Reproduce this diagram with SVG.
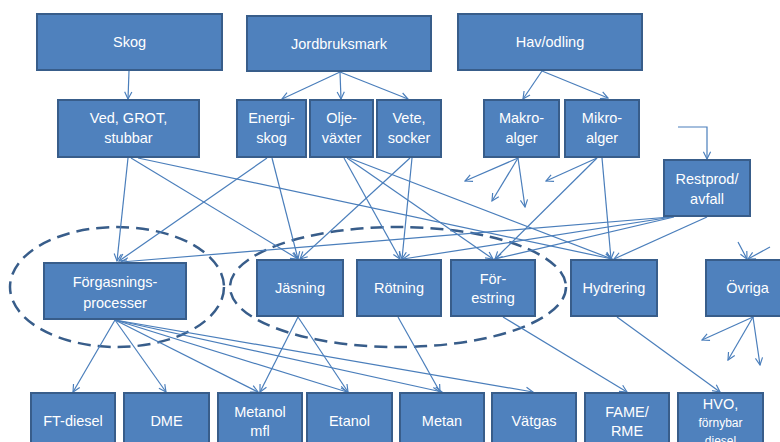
<svg xmlns="http://www.w3.org/2000/svg" width="780" height="442" viewBox="0 0 780 442">
<defs>
<marker id="ah" viewBox="0 0 10 10" refX="9" refY="5" markerWidth="9" markerHeight="9" markerUnits="userSpaceOnUse" orient="auto">
<path d="M1,1 L9,5 L1,9" fill="none" stroke="#4A7EBB" stroke-width="1.3"/>
</marker>
<style>
.n rect{fill:#4F81BD;stroke:#385D8A;stroke-width:2}
.n text{fill:#fff;font-family:"Liberation Sans",Arial,sans-serif;font-size:14.5px;text-anchor:middle}
.c line,.c path{stroke:#4A7EBB;stroke-width:1.2;fill:none;marker-end:url(#ah)}
.e ellipse{fill:none;stroke:#385D8A;stroke-width:2.5;stroke-dasharray:13 7}
</style>
</defs>
<rect width="780" height="442" fill="#fff"/>
<g class="e" id="ellipses">
<ellipse cx="117" cy="287" rx="107" ry="60"/>
<ellipse cx="398" cy="287" rx="168" ry="60"/>
</g>
<g class="c" id="connectors">
<line x1="129" y1="71" x2="128" y2="99"/>
<line x1="340" y1="72" x2="282" y2="99"/>
<line x1="340" y1="72" x2="341" y2="99"/>
<line x1="340" y1="72" x2="408" y2="99"/>
<line x1="542" y1="71" x2="523" y2="99"/>
<line x1="542" y1="71" x2="608" y2="98"/>
<path d="M678,127 L707,127 L707,159"/>
<line x1="128" y1="158" x2="117" y2="261"/>
<line x1="131" y1="158" x2="298" y2="259"/>
<line x1="138" y1="158" x2="612" y2="259"/>
<line x1="267" y1="158" x2="119" y2="261"/>
<line x1="272" y1="158" x2="298" y2="259"/>
<line x1="344" y1="158" x2="400" y2="259"/>
<line x1="347" y1="158" x2="493" y2="259"/>
<line x1="349" y1="158" x2="612" y2="259"/>
<line x1="410" y1="158" x2="300" y2="259"/>
<line x1="412" y1="158" x2="402" y2="259"/>
<line x1="518" y1="158" x2="465" y2="181"/>
<line x1="518" y1="158" x2="492" y2="201"/>
<line x1="518" y1="158" x2="525" y2="207"/>
<line x1="597" y1="158" x2="546" y2="181"/>
<line x1="597" y1="158" x2="495" y2="259"/>
<line x1="602" y1="158" x2="611" y2="259"/>
<line x1="670" y1="217" x2="121" y2="262"/>
<line x1="672" y1="217" x2="403" y2="259"/>
<line x1="674" y1="217" x2="495" y2="259"/>
<line x1="707" y1="217" x2="614" y2="259"/>
<line x1="738" y1="242" x2="747" y2="259"/>
<line x1="770" y1="247" x2="748" y2="259"/>
<line x1="753" y1="317" x2="702" y2="340"/>
<line x1="753" y1="317" x2="728" y2="360"/>
<line x1="753" y1="317" x2="760" y2="365"/>
<line x1="115" y1="320" x2="73" y2="392"/>
<line x1="115" y1="320" x2="166" y2="392"/>
<line x1="115" y1="320" x2="258" y2="392"/>
<line x1="115" y1="320" x2="347" y2="392"/>
<line x1="115" y1="320" x2="442" y2="392"/>
<line x1="115" y1="320" x2="533" y2="392"/>
<line x1="298" y1="317" x2="260" y2="392"/>
<line x1="298" y1="317" x2="348" y2="392"/>
<line x1="398" y1="317" x2="440" y2="392"/>
<line x1="503" y1="317" x2="627" y2="392"/>
<line x1="617" y1="317" x2="720" y2="392"/>
</g>
<g class="n" id="skog"><rect x="37" y="14" width="185" height="56"/><text x="129.5" y="47">Skog</text></g>
<g class="n" id="jordbruksmark"><rect x="247" y="16" width="184" height="55"/><text x="339" y="48.5">Jordbruksmark</text></g>
<g class="n" id="havodling"><rect x="458" y="14" width="184" height="56"/><text x="550" y="47">Hav/odling</text></g>
<g class="n" id="ved"><rect x="58" y="100" width="141" height="57"/><text x="128.5" y="123">Ved, GROT,</text><text x="128.5" y="143">stubbar</text></g>
<g class="n" id="energiskog"><rect x="237" y="100" width="69" height="57"/><text x="271.5" y="123">Energi-</text><text x="271.5" y="143">skog</text></g>
<g class="n" id="oljevaxter"><rect x="310" y="100" width="63" height="57"/><text x="341.5" y="123">Olje-</text><text x="341.5" y="143">växter</text></g>
<g class="n" id="vete"><rect x="377" y="100" width="64" height="57"/><text x="409" y="123">Vete,</text><text x="409" y="143">socker</text></g>
<g class="n" id="makroalger"><rect x="484" y="100" width="75" height="57"/><text x="521.5" y="123">Makro-</text><text x="521.5" y="143">alger</text></g>
<g class="n" id="mikroalger"><rect x="565" y="100" width="74" height="57"/><text x="602" y="123">Mikro-</text><text x="602" y="143">alger</text></g>
<g class="n" id="restprod"><rect x="664" y="160" width="86" height="56"/><text x="707" y="184">Restprod/</text><text x="707" y="204">avfall</text></g>
<g class="n" id="forgasning"><rect x="44" y="263" width="142" height="56"/><text x="115" y="287">Förgasnings-</text><text x="115" y="308">processer</text></g>
<g class="n" id="jasning"><rect x="257" y="260" width="86" height="56"/><text x="300" y="293">Jäsning</text></g>
<g class="n" id="rotning"><rect x="357" y="260" width="84" height="56"/><text x="399" y="293">Rötning</text></g>
<g class="n" id="forestring"><rect x="451" y="260" width="84" height="56"/><text x="493" y="284">För-</text><text x="493" y="303">estring</text></g>
<g class="n" id="hydrering"><rect x="571" y="260" width="86" height="56"/><text x="614" y="293">Hydrering</text></g>
<g class="n" id="ovriga"><rect x="706" y="260" width="82" height="56"/><text x="747.5" y="293">Övriga</text></g>
<g class="n" id="ftdiesel"><rect x="31" y="393" width="84" height="56"/><text x="73" y="426">FT-diesel</text></g>
<g class="n" id="dme"><rect x="124" y="393" width="85" height="56"/><text x="166.5" y="426">DME</text></g>
<g class="n" id="metanol"><rect x="218" y="393" width="84" height="56"/><text x="260" y="417">Metanol</text><text x="260" y="436">mfl</text></g>
<g class="n" id="etanol"><rect x="307" y="393" width="85" height="56"/><text x="349.5" y="426">Etanol</text></g>
<g class="n" id="metan"><rect x="400" y="393" width="84" height="56"/><text x="442" y="426">Metan</text></g>
<g class="n" id="vatgas"><rect x="492" y="393" width="84" height="56"/><text x="534" y="426">Vätgas</text></g>
<g class="n" id="fame"><rect x="585" y="393" width="84" height="56"/><text x="627" y="417">FAME/</text><text x="627" y="436">RME</text></g>
<g class="n" id="hvo"><rect x="678" y="393" width="85" height="56"/><text x="720.5" y="409">HVO,</text><text x="720.5" y="427" style="font-size:12px">förnybar</text><text x="720.5" y="445" style="font-size:12px">diesel</text></g>
</svg>
